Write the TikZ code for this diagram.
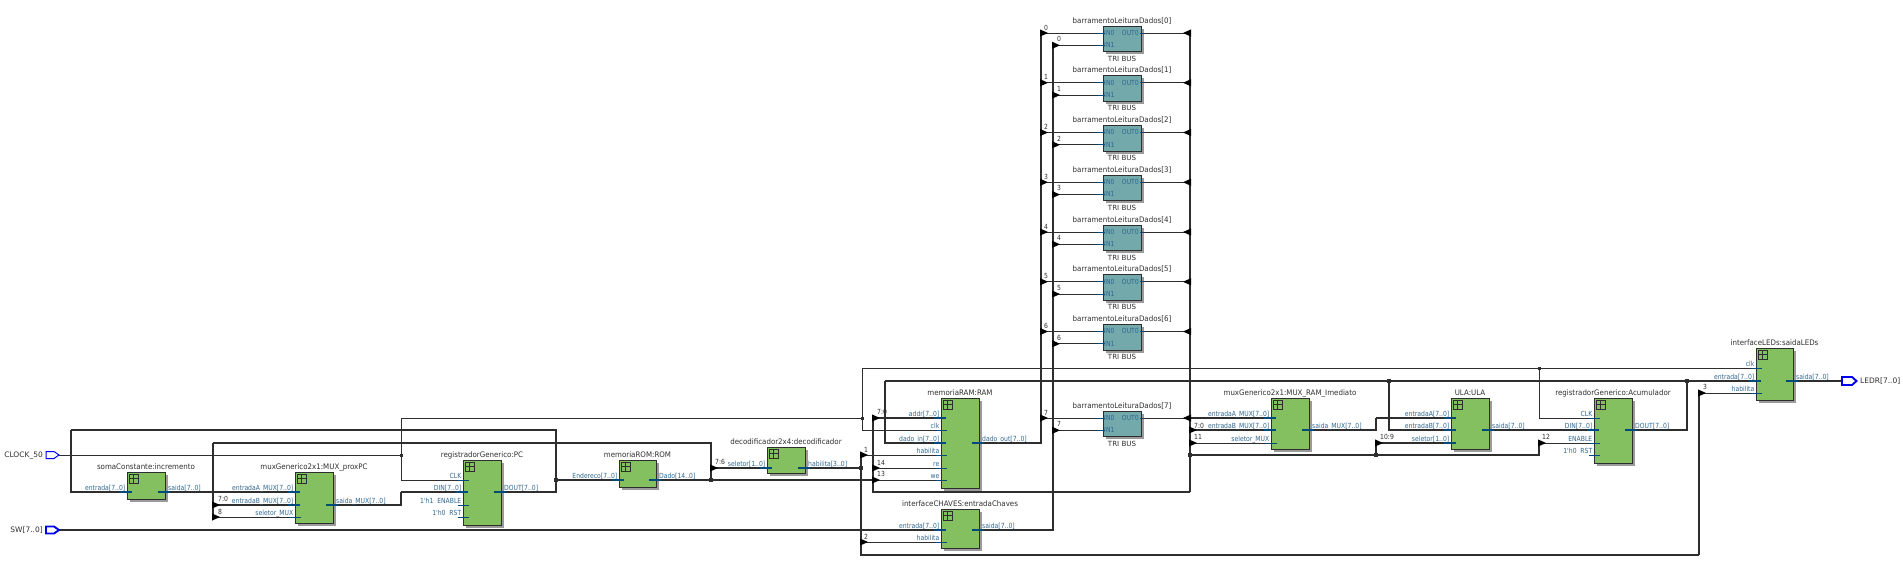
\documentclass[tikz,border=0pt]{standalone}
\usepackage{fontspec}
\setmainfont{DejaVu Sans}
\newfontfamily\portf[FakeStretch=0.87]{DejaVu Sans}
\newfontfamily\titlef[FakeStretch=0.93]{DejaVu Sans}
\usetikzlibrary{backgrounds}
\definecolor{wirec}{HTML}{2E2E2E}
\definecolor{greenb}{HTML}{84BF60}
\definecolor{tealb}{HTML}{74A9AB}
\definecolor{shad}{HTML}{9A9A9A}
\definecolor{portc}{HTML}{2F6690}
\definecolor{stubc}{HTML}{004A7C}
\definecolor{pinc}{HTML}{0000F0}
\newcounter{lb}
\tikzset{
  x=1pt,y=-1pt,
  wthin/.style={draw=wirec,line width=0.9pt},
  wbus/.style={draw=wirec,line width=1.9pt},
  sthin/.style={draw=stubc,line width=0.8pt},
  sbus/.style={draw=stubc,line width=1.5pt},
  boxg/.style={draw=wirec,line width=0.9pt,fill=greenb,inner sep=0pt,outer sep=0pt,anchor=north west},
  boxt/.style={draw=wirec,line width=0.9pt,fill=tealb,inner sep=0pt,outer sep=0pt,anchor=north west},
  shadb/.style={fill=shad,draw=none,inner sep=0pt,outer sep=0pt,anchor=north west},
  ttl/.style={text=wirec,inner sep=0pt,font=\titlef\fontsize{7.6}{8}\selectfont},
  plab/.style={text=portc,inner sep=0pt,font=\portf\fontsize{7}{8}\selectfont},
  nlab/.style={text=wirec,inner sep=0pt,font=\portf\fontsize{7}{8}\selectfont},
  pinl/.style={text=wirec,inner sep=0pt,font=\fontsize{7.5}{8}\selectfont},
  trib/.style={text=wirec,inner sep=0pt,font=\fontsize{7.1}{8}\selectfont},
  ripc/.style={fill=black,draw=none},
  jthin/.style={fill=wirec,draw=none,inner sep=0pt,minimum size=3pt,outer sep=0pt},
  jbus/.style={fill=wirec,draw=none,inner sep=0pt,minimum size=4.2pt,outer sep=0pt},
}
% block: name,x1,y1,x2,y2,title,style
\newcommand{\blk}[7]{%
  \node[shadb,minimum width={(#4)-(#2)},minimum height={(#5)-(#3)}] (#1-s) at (#2+2.5,#3+2.5) {};
  \node[#7,minimum width={(#4)-(#2)},minimum height={(#5)-(#3)}] (#1) at (#2,#3) {};
  \node[ttl,anchor=base] (#1-t) at ({(#2+#4)/2},#3-3) {#6};
}
\newcommand{\grp}[7]{\blk{#1}{#2}{#3}{#4}{#5}{#6}{boxg}%
  \draw[draw=wirec,line width=0.9pt,fill=greenb] (#2+2,#3+2) rectangle (#2+11,#3+11);
  \draw[draw=wirec,line width=0.9pt] (#2+6.5,#3+2) -- (#2+6.5,#3+11) (#2+2,#3+6.5) -- (#2+11,#3+6.5);
}
% input port: coord, box edge, y, label, kind (thin/bus)
\newcommand{\inT}[4]{\coordinate (#1) at (#2,#3);
  \stepcounter{lb}\node[plab,anchor=base east] (l\thelb) at (#2-1.5,#3-2) {#4};
  \draw[sthin] (#2-5,#3) -- (#2+6,#3);}
\newcommand{\inB}[4]{\coordinate (#1) at (#2,#3);
  \stepcounter{lb}\node[plab,anchor=base east] (l\thelb) at (#2-1.5,#3-2) {#4};
  \draw[sbus] (#2-7,#3) -- (#2+5,#3);}
\newcommand{\outB}[4]{\coordinate (#1) at (#2,#3);
  \stepcounter{lb}\node[plab,anchor=base west] (l\thelb) at (#2+3,#3-2) {#4};
  \draw[sbus] (#2-7,#3) -- (#2+5,#3);}
\newcommand{\num}[3]{\stepcounter{lb}\node[nlab,anchor=base west] (l\thelb) at (#1,#2) {#3};}
\newcommand{\ripR}[1]{\fill[ripc] (#1)+(-1,-3.6) -- +(7,0) -- +(-1,3.6) -- cycle;}
\newcommand{\ripL}[1]{\fill[ripc] (#1)+(1,-3.6) -- +(-7,0) -- +(1,3.6) -- cycle;}
\newcommand{\qt}{\symbol{39}}
\begin{document}
\begin{tikzpicture}
\useasboundingbox (0,0) rectangle (1903,566);
% --- junctions and routing points
\coordinate (jclk) at (401,455);
\coordinate (jcl2) at (862,418);
\coordinate (jcl3) at (1539,368);
\coordinate (top1) at (71,430);
\coordinate (jpc) at (556,480);
\coordinate (jrom) at (711,480);
\coordinate (top2) at (213,443);
\coordinate (bot2) at (213,520);
\coordinate (r78) at (213,505);
\coordinate (r8) at (213,517);
\coordinate (bend1) at (401,492);
\coordinate (r76) at (711,468);
\coordinate (jdec) at (861,468);
\coordinate (rh1) at (861,455);
\coordinate (rh2) at (861,542);
\coordinate (rh3) at (1699,393);
\coordinate (low) at (1699,555);
\coordinate (a70) at (873,418);
\coordinate (a14) at (873,468);
\coordinate (a13) at (873,480);
\coordinate (cr) at (1190,492);
\coordinate (jsel) at (1190,455);
\coordinate (m70) at (1190,430);
\coordinate (m11) at (1190,443);
\coordinate (r73) at (1190,418);
\coordinate (e1) at (885,381);
\coordinate (j1389) at (1389,381);
\coordinate (j1687) at (1687,381);
\coordinate (j1376) at (1376,455);
\coordinate (r109) at (1376,443);
\coordinate (r12) at (1539,443);
\coordinate (b2) at (1376,418);
% --- pins
\coordinate (pclk) at (59,455);
\coordinate (psw) at (59,530);
\coordinate (pled) at (1842,381);
\draw[draw=pinc,line width=1pt,fill=white] (46,451.5) -- (54,451.5) -- (59,455) -- (54,458.5) -- (46,458.5) -- cycle;
\draw[draw=pinc,line width=1.9pt,fill=white] (46,526.5) -- (54,526.5) -- (59,530) -- (54,533.5) -- (46,533.5) -- cycle;
\draw[draw=pinc,line width=1.9pt,fill=white] (1842,377) -- (1852,377) -- (1856.5,381) -- (1852,385) -- (1842,385) -- cycle;
\node[pinl,anchor=base east] (nclk) at (43,457.5) {CLOCK\_50};
\node[pinl,anchor=base east] (nsw) at (43,532.5) {SW[7..0]};
\node[pinl,anchor=base west] (nled) at (1860,383.5) {LEDR[7..0]};
% --- blocks
\grp{soma}{127}{472}{165}{499}{somaConstante:incremento}{}
\inB{soma-in}{127}{492}{entrada[7..0]}
\outB{soma-out}{165}{492}{saida[7..0]}
\grp{muxp}{295}{472}{333}{523}{muxGenerico2x1:MUX\_proxPC}{}
\inB{muxp-a}{295}{492}{entradaA\_MUX[7..0]}
\inB{muxp-b}{295}{505}{entradaB\_MUX[7..0]}
\inT{muxp-s}{295}{517}{seletor\_MUX}
\outB{muxp-out}{333}{505}{saida\_MUX[7..0]}
\grp{pc}{463}{460}{501}{525}{registradorGenerico:PC}{}
\inT{pc-clk}{463}{480}{CLK}
\inB{pc-din}{463}{492}{DIN[7..0]}
\inT{pc-en}{463}{505}{1\qt h1 \ ENABLE}
\inT{pc-rst}{463}{517}{1\qt h0 \ RST}
\outB{pc-out}{501}{492}{DOUT[7..0]}
\grp{rom}{619}{460}{656}{487}{memoriaROM:ROM}{}
\inB{rom-in}{619}{480}{Endereco[7..0]}
\outB{rom-out}{656}{480}{Dado[14..0]}
\grp{dec}{767}{447}{805}{473}{decodificador2x4:decodificador}{}
\inB{dec-in}{767}{468}{seletor[1..0]}
\outB{dec-out}{805}{468}{habilita[3..0]}
\grp{ram}{941}{398}{979}{488}{memoriaRAM:RAM}{}
\inB{ram-addr}{941}{418}{addr[7..0]}
\inT{ram-clk}{941}{430}{clk}
\inB{ram-din}{941}{443}{dado\_in[7..0]}
\inT{ram-hab}{941}{455}{habilita}
\inT{ram-re}{941}{468}{re}
\inT{ram-we}{941}{480}{we}
\outB{ram-out}{979}{443}{dado\_out[7..0]}
\grp{chv}{941}{509}{979}{548}{interfaceCHAVES:entradaChaves}{}
\inB{chv-in}{941}{530}{entrada[7..0]}
\inT{chv-hab}{941}{542}{habilita}
\outB{chv-out}{979}{530}{saida[7..0]}
\grp{mram}{1271}{398}{1309}{449}{muxGenerico2x1:MUX\_RAM\_Imediato}{}
\inB{mram-a}{1271}{418}{entradaA\_MUX[7..0]}
\inB{mram-b}{1271}{430}{entradaB\_MUX[7..0]}
\inT{mram-s}{1271}{443}{seletor\_MUX}
\outB{mram-out}{1309}{430}{saida\_MUX[7..0]}
\grp{ula}{1451}{398}{1489}{449}{ULA:ULA}{}
\inB{ula-a}{1451}{418}{entradaA[7..0]}
\inB{ula-b}{1451}{430}{entradaB[7..0]}
\inB{ula-s}{1451}{443}{seletor[1..0]}
\outB{ula-out}{1489}{430}{saida[7..0]}
\grp{acc}{1594}{398}{1632}{463}{registradorGenerico:Acumulador}{}
\inT{acc-clk}{1594}{418}{CLK}
\inB{acc-din}{1594}{430}{DIN[7..0]}
\inT{acc-en}{1594}{443}{ENABLE}
\inT{acc-rst}{1594}{455}{1\qt h0 \ RST}
\outB{acc-out}{1632}{430}{DOUT[7..0]}
\grp{led}{1756}{348}{1793}{400}{interfaceLEDs:saidaLEDs}{}
\inT{led-clk}{1756}{368}{clk}
\inB{led-in}{1756}{381}{entrada[7..0]}
\inT{led-hab}{1756}{393}{habilita}
\outB{led-out}{1793}{381}{saida[7..0]}
% --- tri-state buffers
\foreach \k/\yi in {0/33,1/82.75,2/132.5,3/182.25,4/232,5/281.75,6/331.5,7/418}{
  \blk{q\k}{1103}{\yi-7}{1141}{\yi+18.5}{barramentoLeituraDados[\k]}{boxt}
  \node[trib,anchor=base] (q\k-b) at (1122,\yi+28) {TRI BUS};
  \coordinate (q\k-a) at (1103,\yi);
  \coordinate (q\k-c) at (1103,\yi+12.3);
  \coordinate (q\k-o) at (1141,\yi);
  \coordinate (ra\k) at (1041,\yi);
  \coordinate (rb\k) at (1053,\yi+12.3);
  \coordinate (rc\k) at (1190,\yi);
  \draw[sthin] (1097,\yi) -- (1105,\yi);
  \draw[sthin] (1097,\yi+12.3) -- (1105,\yi+12.3);
  \draw[sthin] (1140,\yi) -- (1144,\yi);
  \node[plab,anchor=base west] (q\k-i0) at (1104,\yi+2.4) {IN0};
  \node[plab,anchor=base west] (q\k-i1) at (1104,\yi+14.7) {IN1};
  \node[plab,anchor=base east] (q\k-o0) at (1139,\yi+2.4) {OUT0};
  \node[nlab,anchor=base west] (q\k-n0) at (1044,\yi-3) {\k};
  \node[nlab,anchor=base west] (q\k-n1) at (1057,\yi+8.6) {\k};
}
% --- wires
\begin{pgfonlayer}{background}
\draw[wthin] (pclk) -- (jclk);
\draw[wthin] (pc-clk) -| (jclk);
\draw[wthin] (jclk) |- (jcl2);
\draw[wthin] (jcl2) |- (ram-clk);
\draw[wthin] (jcl2) |- (jcl3);
\draw[wthin] (jcl3) -- (led-clk);
\draw[wthin] (jcl3) |- (acc-clk);
\draw[wbus] (soma-in) -| (top1);
\draw[wbus] (top1) -| (jpc);
\draw[wbus] (jpc) |- (pc-out);
\draw[wbus] (jpc) -- (rom-in);
\draw[wbus] (soma-out) -- (muxp-a);
\draw[wbus] (jrom) |- (top2);
\draw[wbus] (top2) -- (bot2);
\draw[wbus] (r78) -- (muxp-b);
\draw[wthin] (r8) -- (muxp-s);
\draw[wbus] (muxp-out) -| (bend1);
\draw[wbus] (bend1) -- (pc-din);
\draw[wbus] (rom-out) -- (a13);
\draw[wbus] (r76) -- (dec-in);
\draw[wbus] (dec-out) -- (jdec);
\draw[wbus] (rh1) |- (low);
\draw[wbus] (low) -- (rh3);
\draw[wthin] (rh1) -- (ram-hab);
\draw[wthin] (rh2) -- (chv-hab);
\draw[wthin] (rh3) -- (led-hab);
\draw[wbus] (psw) -- (chv-in);
\draw[wbus] (chv-out) -| (rb0);
\draw[wbus] (ram-out) -| (ra0);
\draw[wbus] (a70) |- (cr);
\draw[wbus] (cr) -- (rc0);
\draw[wbus] (a70) -- (ram-addr);
\draw[wthin] (a14) -- (ram-re);
\draw[wthin] (a13) -- (ram-we);
\draw[wbus] (ram-din) -| (e1);
\draw[wbus] (e1) -- (led-in);
\draw[wbus] (j1389) |- (ula-b);
\draw[wbus] (acc-out) -| (j1687);
\draw[wbus] (mram-out) -| (b2);
\draw[wbus] (b2) -- (ula-a);
\draw[wbus] (ula-out) -- (acc-din);
\draw[wbus] (jsel) -- (j1376);
\draw[wbus] (j1376) -| (r12);
\draw[wbus] (j1376) -- (r109);
\draw[wbus] (r109) -- (ula-s);
\draw[wthin] (r12) -- (acc-en);
\draw[wbus] (r73) -- (mram-a);
\draw[wbus] (m70) -- (mram-b);
\draw[wthin] (m11) -- (mram-s);
\draw[wbus] (led-out) -- (pled);
\foreach \k in {0,...,7}{
  \draw[wthin] (ra\k) -- (q\k-a);
  \draw[wthin] (rb\k) -- (q\k-c);
  \draw[wthin] (q\k-o) -- (rc\k);
}
\end{pgfonlayer}
% --- rippers
\foreach \c in {r78,r8,r76,rh1,rh2,rh3,a70,a14,a13,m70,m11,r109,r12}{\ripR{\c}}
\foreach \k in {0,...,7}{\ripR{ra\k}\ripR{rb\k}\ripL{rc\k}}
% --- junction dots
\foreach \c in {jclk,jcl2,jcl3}{\node[jthin] (d\c) at (\c) {};}
\foreach \c in {jpc,jrom,jdec,jsel,j1376,j1389,j1687}{\node[jbus] (d\c) at (\c) {};}
% --- bit labels
\num{218}{501}{7:0}
\num{218}{514}{8}
\num{715}{464.5}{7:6}
\num{864}{452.5}{1}
\num{877}{414.5}{7:0}
\num{877}{465.5}{14}
\num{877}{476.5}{13}
\num{864}{539.5}{2}
\num{1194}{428.5}{7:0}
\num{1194}{439.5}{11}
\num{1380}{439.5}{10:9}
\num{1542}{439.5}{12}
\num{1703}{389.5}{3}
\end{tikzpicture}
\end{document}
